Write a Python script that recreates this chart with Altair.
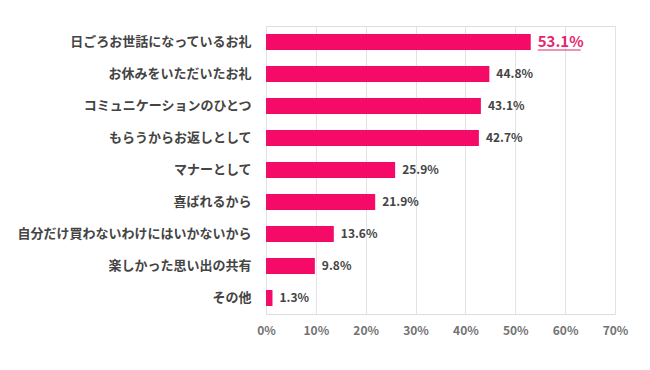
import altair as alt
import pandas as pd

categories = [
    "日ごろお世話になっているお礼",
    "お休みをいただいたお礼",
    "コミュニケーションのひとつ",
    "もらうからお返しとして",
    "マナーとして",
    "喜ばれるから",
    "自分だけ買わないわけにはいかないから",
    "楽しかった思い出の共有",
    "その他",
]
values = [53.1, 44.8, 43.1, 42.7, 25.9, 21.9, 13.6, 9.8, 1.3]
highlight = [True, False, False, False, False, False, False, False, False]

df = pd.DataFrame({"category": categories, "value": values, "hl": highlight})

FONT = "Noto Sans CJK JP"
PINK = "#f50a67"
HL = "#e3276f"

base = alt.Chart(df).encode(
    y=alt.Y(
        "category:N",
        sort=categories,
        title=None,
        scale=alt.Scale(paddingInner=0.5, paddingOuter=0.25),
        axis=alt.Axis(
            ticks=False,
            domain=False,
            labelPadding=15,
            labelFont=FONT,
            labelFontSize=13,
            labelFontWeight="bold",
            labelColor="#444444",
            labelLimit=400,
        ),
    )
)

bars = base.mark_bar(color=PINK).encode(
    x=alt.X(
        "value:Q",
        title=None,
        scale=alt.Scale(domain=[0, 70], nice=False),
        axis=alt.Axis(
            values=[0, 10, 20, 30, 40, 50, 60, 70],
            labelExpr="datum.value + '%'",
            labelFlush=False,
            ticks=False,
            domain=False,
            grid=True,
            gridColor="#e3e3e3",
            labelPadding=11,
            labelFont=FONT,
            labelFontSize=12,
            labelFontWeight="bold",
            labelColor="#737373",
        ),
    )
)

labels = (
    base.transform_filter("!datum.hl")
    .transform_calculate(label="format(datum.value, '.1f') + '%'")
    .mark_text(
        align="left", baseline="middle", dx=7, font=FONT, fontSize=12,
        fontWeight="bold", color="#444444",
    )
    .encode(x="value:Q", text="label:N")
)

hl_label = (
    base.transform_filter("datum.hl")
    .transform_calculate(label="format(datum.value, '.1f') + '%'")
    .mark_text(
        align="left", baseline="middle", dx=7, font=FONT, fontSize=15,
        fontWeight="bold", color=HL,
    )
    .encode(x="value:Q", text="label:N")
)

underline = (
    base.transform_filter("datum.hl")
    .mark_rule(color=HL, strokeWidth=1, xOffset=7, x2Offset=50, yOffset=8)
    .encode(x="value:Q", x2="value:Q")
)

chart = (
    alt.layer(bars, labels, hl_label, underline)
    .properties(width=349, height=288, padding={"left": 8, "top": 18, "right": 5, "bottom": 5})
    .configure_view(stroke=None)
    .configure(background="white")
)

chart.save("out.html", embed_options={"renderer": "svg", "actions": False})
